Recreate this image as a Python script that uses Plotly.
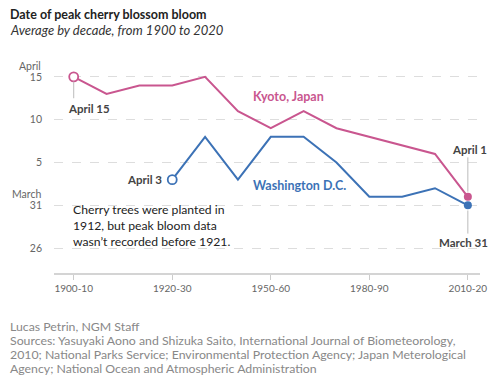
import plotly.graph_objects as go

# Data: days relative to March 31 (April n = n, March 31 = 0, March 26 = -5)
decade_index = list(range(13))
tick_index = [0, 3, 6, 9, 12]
tick_labels = ["1900-10", "1920-30", "1950-60", "1980-90", "2010-20"]
kyoto = [15, 13, 14, 14, 15, 11, 9, 11, 9, 8, 7, 6, 1]
washington = [None, None, None, 3, 8, 3, 8, 8, 5, 1, 1, 2, 0]
y_ticks = [15, 10, 5, 0, -5]
y_tick_labels = ["15", "10", "5", "31", "26"]
footer_lines = [
    "Lucas Petrin, NGM Staff",
    "Sources: Yasuyaki Aono and Shizuka Saito, International Journal of Biometeorology,",
    "2010; National Parks Service; Environmental Protection Agency; Japan Meterological",
    "Agency; National Ocean and Atmospheric Administration",
]

PINK = "#c9568f"
BLUE = "#3c72b6"
FONT = "Lato"

fig = go.Figure()
fig.add_trace(go.Scatter(x=decade_index, y=kyoto, mode="lines",
                         line=dict(color=PINK, width=2), hoverinfo="skip"))
fig.add_trace(go.Scatter(x=decade_index, y=washington, mode="lines",
                         line=dict(color=BLUE, width=2), hoverinfo="skip"))

# endpoint markers
fig.add_trace(go.Scatter(x=[decade_index[0]], y=[kyoto[0]], mode="markers",
                         marker=dict(size=9, color="white", line=dict(color=PINK, width=1.8))))
fig.add_trace(go.Scatter(x=[decade_index[-1]], y=[kyoto[-1]], mode="markers",
                         marker=dict(size=8, color=PINK)))
fig.add_trace(go.Scatter(x=[decade_index[3]], y=[washington[3]], mode="markers",
                         marker=dict(size=9, color="white", line=dict(color=BLUE, width=1.8))))
fig.add_trace(go.Scatter(x=[decade_index[-1]], y=[washington[-1]], mode="markers",
                         marker=dict(size=8, color=BLUE)))

# connector lines
conn = dict(color="#bbbbbb", width=1)
fig.add_shape(type="line", x0=0, x1=0, y0=kyoto[0] - 0.55, y1=kyoto[0] - 2.5, line=conn)
fig.add_shape(type="line", x0=12, x1=12, y0=kyoto[-1] + 0.6, y1=kyoto[-1] + 4.6, line=conn)
fig.add_shape(type="line", x0=12, x1=12, y0=washington[-1] - 0.6, y1=washington[-1] - 3.3, line=conn)

ann_font = dict(family=FONT, size=11.5, color="#444444")
fig.add_annotation(x=0, y=kyoto[0] - 3.5, yshift=-2, text="<b>April 15</b>", showarrow=False,
                   xanchor="left", xshift=-8, font=ann_font)
fig.add_annotation(x=3, y=washington[3], text="<b>April 3</b>", showarrow=False,
                   xanchor="right", xshift=-8, font=ann_font)
fig.add_annotation(x=12, y=kyoto[-1] + 5.5, text="<b>April 1</b>", showarrow=False,
                   xanchor="center", xshift=2, font=ann_font)
fig.add_annotation(x=12, y=washington[-1] - 4.3, text="<b>March 31</b>", showarrow=False,
                   xanchor="center", xshift=-4, font=ann_font)
fig.add_annotation(x=5.4, y=12.7, text="<b>Kyoto, Japan</b>", showarrow=False,
                   xanchor="left", font=dict(family=FONT, size=12.5, color=PINK))
fig.add_annotation(x=5.4, y=2.3, text="<b>Washington D.C.</b>", showarrow=False,
                   xanchor="left", font=dict(family=FONT, size=12.5, color=BLUE))
fig.add_annotation(x=0, y=-2.4, yanchor="middle", xshift=-3,
                   text="Cherry trees were planted in<br>1912, but peak bloom data<br>wasn\u2019t recorded before 1921.",
                   showarrow=False, xanchor="left", align="left",
                   font=dict(family=FONT, size=12.2, color="#222222"))

# month labels above ticks
for yv, txt in [(15, "April"), (0, "March")]:
    fig.add_annotation(xref="paper", x=0, y=yv, yshift=11, xshift=-11, text=txt,
                       showarrow=False, xanchor="right",
                       font=dict(family=FONT, size=10.5, color="#666666"))

# title, subtitle, footer
fig.add_annotation(xref="paper", yref="paper", x=0, y=1, xshift=-46, yshift=50,
                   text="<b>Date of peak cherry blossom bloom</b>", showarrow=False,
                   xanchor="left", yanchor="middle",
                   font=dict(family=FONT, size=12.5, color="#222222"))
fig.add_annotation(xref="paper", yref="paper", x=0, y=1, xshift=-46, yshift=34,
                   text="<i>Average by decade, from 1900 to 2020</i>", showarrow=False,
                   xanchor="left", yanchor="middle",
                   font=dict(family=FONT, size=13, color="#333333"))
for i, line in enumerate(footer_lines):
    fig.add_annotation(xref="paper", yref="paper", x=0, y=0, xshift=-46,
                       yshift=-53 - 14.2 * i,
                       text=line, showarrow=False, xanchor="left", yanchor="middle",
                       font=dict(family=FONT, size=12.3, color="#888888"))

fig.update_layout(
    width=498, height=382,
    margin=dict(l=54, r=18, t=64, b=109),
    paper_bgcolor="white", plot_bgcolor="white",
    showlegend=False,
    font=dict(family=FONT),
    xaxis=dict(range=[-0.6, 12.37], tickvals=tick_index, ticktext=tick_labels,
               showgrid=False, zeroline=False, showline=True, linecolor="#d4d4d4", linewidth=2,
               ticks="outside", ticklen=5, tickcolor="#cccccc", tickwidth=1,
               tickfont=dict(family=FONT, size=10, color="#666666")),
    yaxis=dict(range=[-7.9, 16.5], tickvals=y_ticks, ticktext=y_tick_labels,
               showgrid=True, gridcolor="#dddddd", griddash="dash", gridwidth=1,
               zeroline=False, showline=False, ticks="", ticklabelstandoff=11,
               tickfont=dict(family=FONT, size=10.5, color="#666666")),
)

fig.write_html("out.html", config={"displayModeBar": False},
               post_script="document.body.style.margin='0';document.body.style.overflow='hidden';")
